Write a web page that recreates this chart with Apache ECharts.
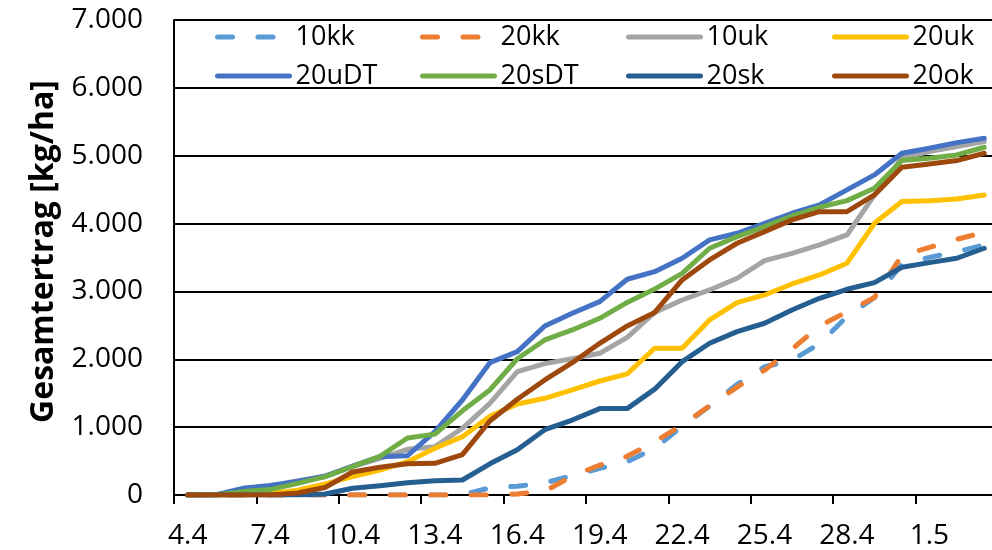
<!DOCTYPE html>
<html>
<head>
<meta charset="utf-8">
<script src="https://cdn.jsdelivr.net/npm/echarts@6/dist/echarts.min.js"></script>
<style>
  html, body { margin: 0; padding: 0; background: #fff; }
  #chart { width: 992px; height: 550px; }
</style>
</head>
<body>
<div id="chart"></div>
<script>
const categories = ['4.4','5.4','6.4','7.4','8.4','9.4','10.4','11.4','12.4','13.4','14.4','15.4','16.4','17.4','18.4','19.4','20.4','21.4','22.4','23.4','24.4','25.4','26.4','27.4','28.4','29.4','30.4','1.5','2.5','3.5'];

const s10kk = [0,0,0,0,0,0,0,0,0,0,0,105,130,180,285,392,491,688,1010,1310,1630,1890,1985,2230,2630,2910,3395,3502,3582,3687];
const s20kk = [0,0,0,0,0,0,0,0,0,0,0,0,15,55,280,440,570,785,1030,1315,1590,1840,2150,2490,2700,2910,3530,3648,3768,3871];
const s10uk = [0,0,60,130,211,270,418,540,673,712,983,1350,1818,1936,2008,2088,2322,2690,2874,3022,3194,3454,3562,3685,3832,4420,4963,5060,5134,5208];
const s20uk = [0,0,0,20,70,162,270,368,491,688,860,1160,1341,1425,1548,1680,1784,2162,2162,2580,2835,2948,3110,3243,3415,4004,4324,4338,4363,4422];
const s20uDT = [0,0,98,140,200,280,427,565,580,933,1400,1950,2112,2491,2678,2849,3179,3291,3489,3759,3857,4004,4152,4275,4496,4717,5036,5110,5193,5257];
const s20sDT = [0,0,50,80,172,270,420,570,840,897,1240,1548,2008,2285,2432,2604,2838,3035,3267,3636,3808,3955,4112,4240,4338,4520,4928,4962,5012,5125];
const s20sk = [0,0,0,0,0,15,100,137,182,211,221,460,668,963,1105,1273,1273,1560,1965,2236,2408,2531,2727,2899,3032,3130,3356,3424,3489,3636];
const s20ok = [0,0,0,0,30,110,340,410,460,467,595,1090,1410,1695,1950,2236,2491,2690,3169,3464,3710,3881,4054,4176,4176,4422,4830,4879,4928,5036];

const yTicks = { min: 0, max: 7000, interval: 1000 };
const axisTitle = 'Gesamtertrag [kg/ha]';

const seriesDefs = [
  { name: '10kk', data: s10kk, color: '#5B9BD5', dashed: true },
  { name: '20kk', data: s20kk, color: '#ED7D31', dashed: true },
  { name: '10uk', data: s10uk, color: '#A5A5A5' },
  { name: '20uk', data: s20uk, color: '#FFC000' },
  { name: '20uDT', data: s20uDT, color: '#4472C4' },
  { name: '20sDT', data: s20sDT, color: '#70AD47' },
  { name: '20sk', data: s20sk, color: '#255E91' },
  { name: '20ok', data: s20ok, color: '#9E480E' }
];

const FONT = 'Open Sans';
const legendCols = [['10kk','20uDT'],['20kk','20sDT'],['10uk','20sk'],['20uk','20ok']];
const legendLeft = [215, 420, 626, 832];

const chart = echarts.init(document.getElementById('chart'), null, { renderer: 'canvas' });
chart.setOption({
  animation: false,
  backgroundColor: '#ffffff',
  grid: { left: 174, right: -6, top: 20, bottom: 55, containLabel: false, outerBoundsMode: 'none' },
  legend: legendCols.map((col, i) => ({
    data: col,
    orient: 'vertical',
    left: legendLeft[i],
    top: 22,
    itemWidth: 72,
    itemHeight: 14,
    itemGap: 9,
    padding: 0,
    selectedMode: false,
    itemStyle: { opacity: 0 },
    lineStyle: { width: 5, cap: 'round' },
    textStyle: { fontFamily: FONT, fontSize: 27, color: '#000', lineHeight: 30, padding: [0, 0, 0, 1] }
  })),
  xAxis: {
    type: 'category',
    data: categories,
    boundaryGap: true,
    axisLine: { lineStyle: { color: '#000', width: 2 } },
    axisTick: { show: true, interval: 2, length: 9, lineStyle: { color: '#000', width: 2 } },
    axisLabel: { interval: 2, margin: 27, fontFamily: FONT, fontSize: 28, color: '#000' },
    splitLine: { show: false }
  },
  yAxis: {
    type: 'value',
    min: yTicks.min, max: yTicks.max, interval: yTicks.interval,
    name: axisTitle,
    nameLocation: 'middle',
    nameGap: 114,
    nameTextStyle: { fontFamily: FONT, fontSize: 32, fontWeight: 'bold', color: '#000', padding: [0, 0, 0, 12] },
    axisLine: { show: true, lineStyle: { color: '#000', width: 2 } },
    axisTick: { show: false },
    axisLabel: {
      margin: 31, fontFamily: FONT, fontSize: 28, color: '#000',
      formatter: v => v === 0 ? '0' : (v / 1000) + '.000'
    },
    splitLine: { show: true, lineStyle: { color: '#000', width: 2 } }
  },
  series: seriesDefs.map(s => ({
    name: s.name,
    type: 'line',
    data: s.data,
    symbol: 'none',
    smooth: false,
    color: s.color,
    lineStyle: {
      color: s.color,
      width: 5,
      type: s.dashed ? [15, 25.5] : 'solid',
      cap: 'round',
      join: 'round'
    }
  }))
});
</script>
</body>
</html>
